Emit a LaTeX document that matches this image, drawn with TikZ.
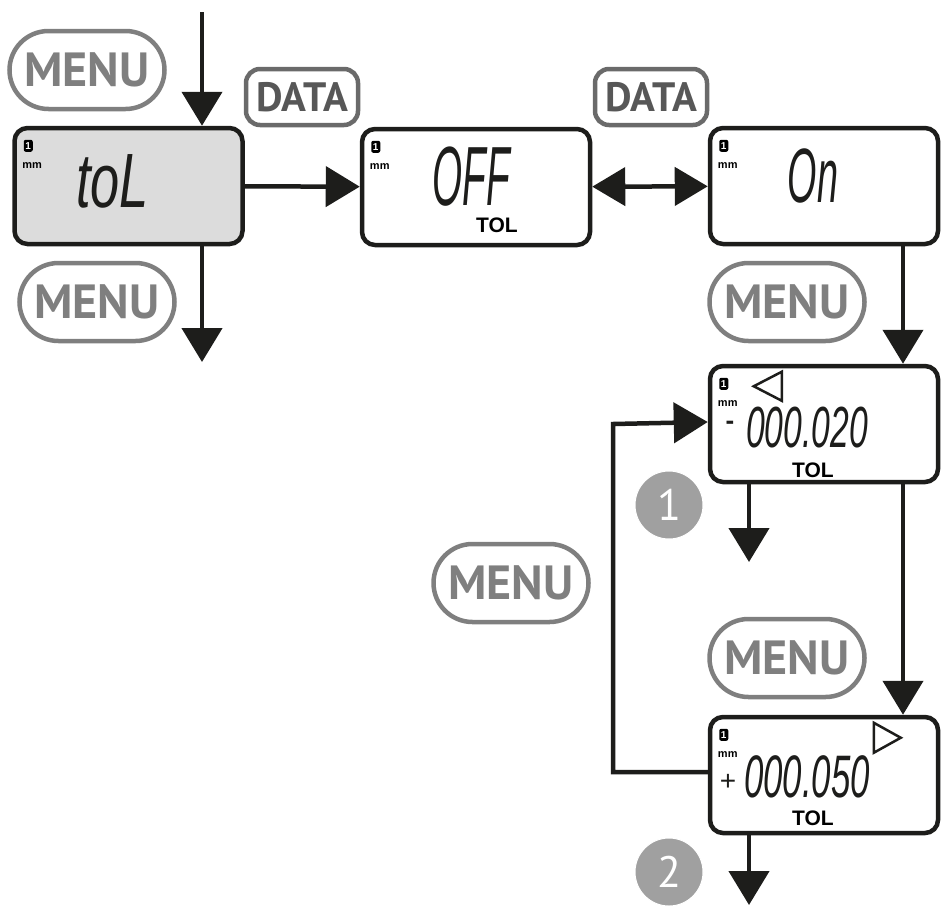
\documentclass[tikz,border=0pt]{standalone}
\usepackage{fontspec}
\setmainfont{Liberation Sans}
\newfontfamily\keyfont{PT Sans}
\newfontfamily\lcdfont{Liberation Sans}
\usepackage{tikz}
\usetikzlibrary{arrows.meta, positioning, shapes.misc, calc}

\definecolor{lcdline}{HTML}{1D1D1B}
\definecolor{lcdfill}{HTML}{DCDCDC}
\definecolor{keygray}{HTML}{7F7F7F}
\definecolor{datagray}{HTML}{6A6A6A}
\definecolor{datatext}{HTML}{575757}
\definecolor{stepgray}{HTML}{A0A0A0}

% narrow slanted digits for the readouts: #1 stretch, #2 size
\newcommand\lcdtype[2]{\lcdfont\itshape\addfontfeatures{FakeStretch=#1}\fontsize{#2}{#2}\selectfont}

\begin{document}
\begin{tikzpicture}[x=1pt, y=-1pt,
    lcdbox/.style={draw=lcdline, line width=4.5pt, rounded corners=13pt, minimum width=228pt, minimum height=116pt, fill=white},
    menukey/.style={rounded rectangle, draw=keygray, line width=4.5pt, minimum width=155pt, minimum height=78pt, inner sep=0pt, text=keygray, font=\keyfont\bfseries\fontsize{48}{48}\selectfont},
    datakey/.style={draw=datagray, line width=4.5pt, rounded corners=14pt, minimum width=112pt, minimum height=56pt, inner sep=0pt, text=datatext, font=\keyfont\bfseries\fontsize{41}{41}\selectfont},
    seg/.style={inner sep=0pt, text=lcdline},
    unitlbl/.style={inner sep=0pt, font=\bfseries\fontsize{11}{11}\selectfont},
    badge/.style={fill=black, rounded corners=2pt, inner sep=0pt, minimum width=9pt, minimum height=12pt, text=white, font=\bfseries\fontsize{10}{10}\selectfont},
    tolmark/.style={inner sep=0pt, font=\bfseries\fontsize{21}{21}\selectfont},
    stepmark/.style={circle, fill=stepgray, draw=white, line width=1pt, minimum size=68pt, inner sep=0pt, text=white, font=\keyfont\fontsize{44}{44}\selectfont},
    arr/.style={draw=lcdline, line width=4.5pt, -{Triangle[length=34pt, width=40pt]}},
    dblarr/.style={draw=lcdline, line width=4.5pt, {Triangle[length=33pt, width=38pt]}-{Triangle[length=33pt, width=38pt]}},
    pointer/.style={draw=lcdline, line width=2.5pt}]

  \useasboundingbox (0,0) rectangle (941,905);

  % displays
  \node[lcdbox, fill=lcdfill] (tol) at (128.5,186) {};
  \node[lcdbox] (off) at (476,187) {};
  \node[lcdbox] (on) at (824,186) {};
  \node[lcdbox] (lo) at (824,424) {};
  \node[lcdbox] (hi) at (824,775) {};

  \foreach \d in {tol,off,on,lo,hi} {
    \node[badge] at ($(\d.north west)+(16,20)$) {1};
    \node[unitlbl] at ($(\d.north west)+(20,40)$) {mm};
  }

  \node[seg, font=\lcdtype{0.68}{77}] (tolval) at ($(tol)+(-16,-5)$) {toL};
  \node[seg, font=\lcdtype{0.46}{84}] (offval) at ($(off)+(-5,-10)$) {OFF};
  \node[seg, font=\lcdtype{0.49}{77}] (onval) at ($(on)+(-11,-10)$) {On};
  \node[seg, font=\lcdtype{0.58}{58}] (loval) at ($(lo)+(-17,4)$) {000.020};
  \node[seg, font=\lcdtype{0.58}{60}] (hival) at ($(hi)+(-17,2)$) {000.050};
  \node[seg, font=\bfseries\fontsize{26}{26}\selectfont] (losign) at ($(lo)+(-94,1)$) {-};
  \node[seg, font=\fontsize{28}{28}\selectfont] (hisign) at ($(hi)+(-96,7)$) {+};

  \node[tolmark] at ($(off)+(21,38)$) {TOL};
  \node[tolmark] at ($(lo)+(-11,46)$) {TOL};
  \node[tolmark] at ($(hi)+(-11,43)$) {TOL};

  \draw[pointer] ($(lo.north west)+(74,8)$) -- ++(0,29) -- ++(-28,-14.5) -- cycle;
  \draw[pointer] ($(hi.north west)+(166,8)$) -- ++(0,30) -- ++(27,-15) -- cycle;

  % keys
  \node[menukey] (menuin) at (87,70) {MENU};
  \node[menukey] (menuout) at (97,302) {MENU};
  \node[menukey] (menuon) at (787,302) {MENU};
  \node[menukey] (menuloop) at (511,583) {MENU};
  \node[menukey] (menuhi) at (787,658) {MENU};
  \node[datakey] (data1) at (302,97) {DATA};
  \node[datakey] (data2) at (651,97) {DATA};

  \node[stepmark] (s1) at (669,505) {1};
  \node[stepmark] (s2) at (669,872) {2};

  % connectors
  \coordinate (entry) at (202,12);
  \coordinate (leave) at (202,362);
  \coordinate (rcol) at (903,0);
  \coordinate (lcol) at (749,0);
  \coordinate (exit1) at (749,562);
  \coordinate (exit2) at (749,905);
  \coordinate (back) at (613,0);

  \draw[arr] (entry) -- (entry |- tol.north);
  \draw[arr] (leave |- tol.south) -- (leave);
  \draw[arr] (tol) -- (off);
  \draw[dblarr] (off) -- (on);
  \draw[arr] (rcol |- on.south) -- (rcol |- lo.north);
  \draw[arr] (rcol |- lo.south) -- (rcol |- hi.north);
  \draw[arr] (lcol |- lo.south) -- (exit1);
  \draw[arr] (lcol |- hi.south) -- (exit2);
  \draw[arr] ($(hi.west)+(0,-3)$) -| (back |- lo.west) -- ($(lo.west)+(0,-2)$);
\end{tikzpicture}
\end{document}
